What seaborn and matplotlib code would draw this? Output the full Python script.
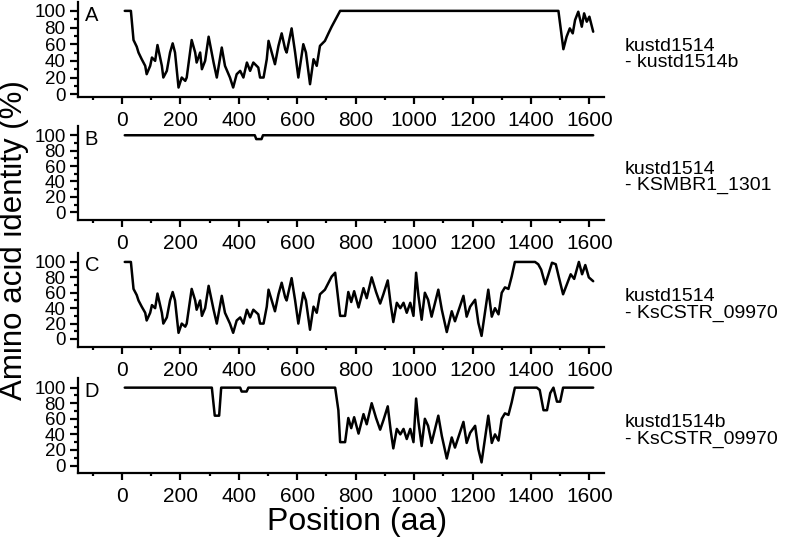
import matplotlib
matplotlib.use("Agg")
import matplotlib.pyplot as plt
import seaborn as sns
import pandas as pd
from matplotlib.ticker import FixedLocator

sns.set_style("ticks")
plt.rcParams['font.family'] = ['Liberation Sans', 'DejaVu Sans']
plt.rcParams.update({"text.color": "black", "axes.labelcolor": "black", "xtick.color": "black",
                     "ytick.color": "black", "axes.edgecolor": "black"})

# ---- data ----
# N-terminal region shared by kustd1514 comparisons (A and C)
nterm_pos = [10, 31, 40, 51, 57, 68, 80, 85, 97, 103, 114, 122, 137, 142, 154, 165, 174, 182, 194, 205,
             217, 222, 239, 251, 256, 268, 274, 285, 297, 314, 325, 342, 353, 370, 381, 393, 405, 416, 428, 439,
             450, 467, 473, 485, 496, 502, 513, 524, 536, 547, 559, 564, 581, 593, 604, 621, 630, 644, 656, 667,
             678, 695, 707, 718]
nterm_id = [100, 100, 65, 57, 50, 42, 34, 24, 34, 44, 40, 59, 34, 20, 28, 50, 61, 50, 8, 20,
            16, 20, 65, 50, 38, 50, 30, 40, 69, 38, 20, 56, 34, 20, 8, 24, 28, 20, 38, 28,
            38, 32, 20, 20, 42, 64, 50, 36, 58, 73, 54, 50, 79, 50, 20, 60, 50, 12, 42, 34,
            58, 64, 73, 81]

# middle region shared by KsCSTR_09970 comparisons (C and D)
mid_pos = [747, 764, 775, 785, 795, 810, 827, 838, 855, 870, 884, 895, 910, 920, 929, 941, 953, 964, 975, 987,
           998, 1007, 1015, 1026, 1037, 1048, 1060, 1083, 1095, 1112, 1129, 1140, 1169, 1180, 1192, 1209, 1220,
           1231, 1254, 1266, 1277, 1289, 1300, 1311, 1323, 1334, 1345]
mid_id = [30, 30, 61, 48, 62, 41, 66, 53, 80, 61, 46, 58, 76, 45, 22, 47, 40, 47, 34, 47,
          30, 86, 56, 25, 60, 51, 29, 64, 38, 9, 36, 23, 56, 29, 42, 51, 21,
          4, 64, 29, 40, 32, 60, 67, 65, 81, 100]

a_tail_pos = [747, 1494, 1511, 1522, 1533, 1543, 1551, 1562, 1574, 1582, 1591, 1600, 1613]
a_tail_id = [100, 100, 54, 69, 79, 73, 89, 99, 81, 97, 87, 93, 75]

b_pos = [10, 455, 460, 478, 483, 1613]
b_id = [100, 100, 95, 95, 100, 100]

c_link_pos = [730]
c_link_id = [86]
c_tail_pos = [1414, 1425, 1435, 1449, 1460, 1472, 1485, 1495, 1510, 1520, 1536, 1548, 1564, 1575, 1586, 1598, 1613]
c_tail_id = [100, 97, 90, 71, 84, 99, 97, 81, 58, 68, 84, 78, 100, 84, 96, 80, 75]

d_head_pos = [10, 308, 318, 333, 340, 405, 410, 427, 433, 730, 741]
d_head_id = [100, 100, 64, 64, 100, 100, 95, 95, 100, 100, 71]
d_tail_pos = [1420, 1430, 1443, 1455, 1466, 1477, 1489, 1500, 1510, 1613]
d_tail_id = [100, 97, 71, 71, 93, 100, 82, 82, 100, 100]

panels = ["A", "B", "C", "D"]
pair_labels = ["kustd1514\n- kustd1514b", "kustd1514\n- KSMBR1_1301",
               "kustd1514\n- KsCSTR_09970", "kustd1514b\n- KsCSTR_09970"]

series = {
    "A": (nterm_pos + a_tail_pos, nterm_id + a_tail_id),
    "B": (b_pos, b_id),
    "C": (nterm_pos + c_link_pos + mid_pos + c_tail_pos, nterm_id + c_link_id + mid_id + c_tail_id),
    "D": (d_head_pos + mid_pos + d_tail_pos, d_head_id + mid_id + d_tail_id),
}

W, H = 787, 543
fig = plt.figure(figsize=(W / 100, H / 100), dpi=100)

# axes boxes in pixels: (top, bottom)
boxes = {"A": (1.7, 96.7), "B": (126, 220), "C": (252.7, 346.7), "D": (378.3, 473.3)}
ylims = {"A": (-3, 111), "B": (-10, 112), "C": (-10, 112), "D": (-10, 112)}
text_y = {"A": 48, "B": 45, "C": 44, "D": 44}
left_px, right_px = 78, 604

for p, lab in zip(panels, pair_labels):
    top, bot = boxes[p]
    ax = fig.add_axes([left_px / W, 1 - bot / H, (right_px - left_px) / W, (bot - top) / H])
    xs, ys = series[p]
    df = pd.DataFrame({"Position": xs, "Identity": ys})
    sns.lineplot(data=df, x="Position", y="Identity", ax=ax, color="black", linewidth=1.8,
                 sort=False, estimator=None)
    ax.set_xlim(-150, 1650)
    ax.set_ylim(*ylims[p])
    ax.set_xlabel("")
    ax.set_ylabel("")
    sns.despine(ax=ax)
    for s in ("left", "bottom"):
        ax.spines[s].set_linewidth(1.6)
        ax.spines[s].set_color("black")
    ax.xaxis.set_major_locator(FixedLocator(list(range(0, 1601, 200))))
    ax.xaxis.set_minor_locator(FixedLocator(list(range(-100, 1601, 200))))
    ax.yaxis.set_major_locator(FixedLocator(list(range(0, 101, 20))))
    ax.yaxis.set_minor_locator(FixedLocator(list(range(10, 91, 20))))
    ax.tick_params(axis="x", which="major", length=5, width=1.6, labelsize=15, pad=5)
    ax.tick_params(axis="x", which="minor", length=2.5, width=1.6)
    ax.tick_params(axis="y", which="major", length=6, width=1.6, labelsize=13.5, pad=3)
    ax.tick_params(axis="y", which="minor", length=3, width=1.6)
    ax.text(-127, 95, p, fontsize=14.5, ha="left", va="center")
    ax.text(1722, text_y[p], lab, fontsize=14, ha="left", va="center", linespacing=0.95,
            clip_on=False)

fig.text(14 / W, 1 - 240 / H, "Amino acid identity (%)", rotation=90, fontsize=22.5,
         ha="center", va="center")
fig.text(357 / W, 1 - 522 / H, "Position (aa)", fontsize=23, ha="center", va="center")

fig.savefig("out.png", dpi=100)
